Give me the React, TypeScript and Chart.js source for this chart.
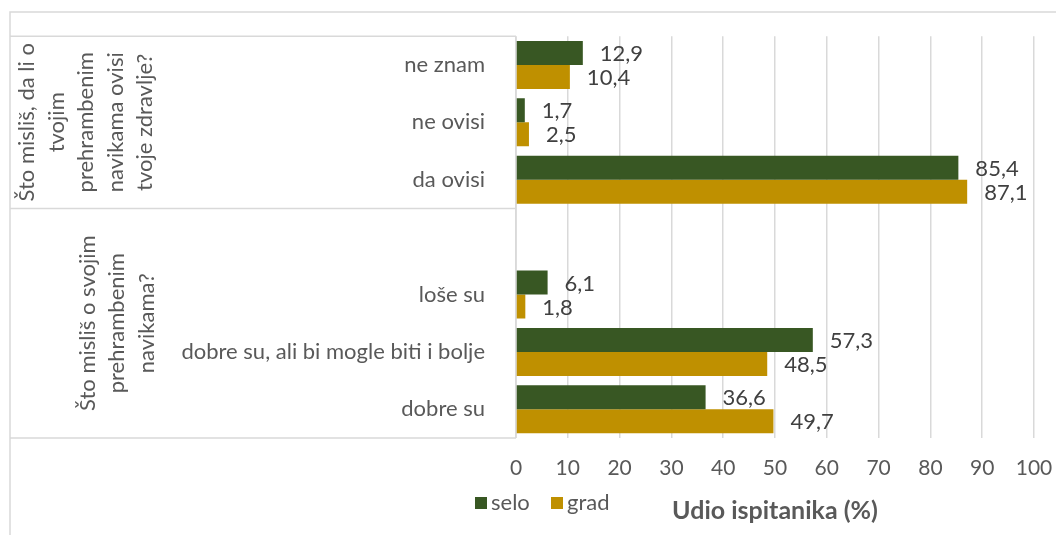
import React, { useEffect, useRef } from 'react';
import { Chart, registerables } from 'chart.js';

Chart.register(...registerables);

// ---------- data ----------
const categories = [
  'ne znam',
  'ne ovisi',
  'da ovisi',
  '',
  'loše su',
  'dobre su, ali bi mogle biti i bolje',
  'dobre su',
];
const seloValues = [12.9, 1.7, 85.4, null, 6.1, 57.3, 36.6];
const gradValues = [10.4, 2.5, 87.1, null, 1.8, 48.5, 49.7];
const seriesNames = ['selo', 'grad'];
const seriesColors = ['#385723', '#BF9000'];
const groupLabels = [
  ['Što misliš, da li o', 'tvojim', 'prehrambenim', 'navikama ovisi', 'tvoje zdravlje?'],
  ['Što misliš o svojim', 'prehrambenim', 'navikama?'],
];
const groupRanges = [
  [0, 2],
  [3, 6],
];
const xMin = 0;
const xMax = 100;
const xStep = 10;
const axisTitle = 'Udio ispitanika (%)';

const FONT = 'Lato, "Open Sans", sans-serif';
const GRID = '#d9d9d9';

const overlayPlugin = {
  id: 'overlay',
  beforeDraw(chart: any) {
    const ctx = chart.ctx;
    const area = chart.chartArea;
    const ys = chart.scales.y;
    ctx.save();
    ctx.strokeStyle = GRID;
    ctx.lineWidth = 1.5;
    // outer chart border (top + left)
    ctx.beginPath();
    ctx.moveTo(10, chart.height);
    ctx.lineTo(10, 12);
    ctx.lineTo(chart.width, 12);
    ctx.stroke();
    // category table lines
    const half = (ys.getPixelForValue(1) - ys.getPixelForValue(0)) / 2;
    const bounds: number[] = [];
    groupRanges.forEach(([a, b]) => {
      bounds.push(ys.getPixelForValue(a) - half);
      bounds.push(ys.getPixelForValue(b) + half);
    });
    const uniq = Array.from(new Set(bounds.map((v) => Math.round(v * 10) / 10)));
    ctx.beginPath();
    uniq.forEach((yy) => {
      ctx.moveTo(10, yy);
      ctx.lineTo(area.left, yy);
    });
    ctx.moveTo(area.left, Math.min(...uniq));
    ctx.lineTo(area.left, Math.max(...uniq));
    ctx.stroke();
    ctx.restore();
  },
  afterDatasetsDraw(chart: any) {
    const ctx = chart.ctx;
    ctx.save();
    ctx.font = `22px ${FONT}`;
    ctx.fillStyle = '#404040';
    ctx.textAlign = 'left';
    ctx.textBaseline = 'middle';
    chart.data.datasets.forEach((ds: any, di: number) => {
      const meta = chart.getDatasetMeta(di);
      meta.data.forEach((el: any, i: number) => {
        const v = ds.data[i];
        if (v === null || v === undefined) return;
        ctx.fillText(v.toFixed(1).replace('.', ','), el.x + 17, el.y + 1);
      });
    });
    ctx.restore();
  },
  afterDraw(chart: any) {
    const ctx = chart.ctx;
    const ys = chart.scales.y;
    const half = (ys.getPixelForValue(1) - ys.getPixelForValue(0)) / 2;
    ctx.save();
    ctx.font = `22px ${FONT}`;
    ctx.fillStyle = '#595959';
    ctx.textAlign = 'center';
    ctx.textBaseline = 'middle';
    const centersX = [86, 117];
    const lh = 29.5;
    groupLabels.forEach((lines, gi) => {
      const [a, b] = groupRanges[gi];
      const cy = (ys.getPixelForValue(a) - half + ys.getPixelForValue(b) + half) / 2;
      ctx.save();
      ctx.translate(centersX[gi], cy);
      ctx.rotate(-Math.PI / 2);
      lines.forEach((t, li) => {
        ctx.fillText(t, 0, (li - (lines.length - 1) / 2) * lh);
      });
      ctx.restore();
    });
    // legend
    ctx.textAlign = 'left';
    const legendX = [475, 551];
    chart.data.datasets.forEach((ds: any, di: number) => {
      ctx.fillStyle = ds.backgroundColor;
      ctx.fillRect(legendX[di], 497, 12, 12);
      ctx.fillStyle = '#595959';
      ctx.fillText(ds.label, legendX[di] + 16, 503);
    });
    ctx.restore();
  },
};

export default function App() {
  const ref = useRef<HTMLCanvasElement>(null);
  useEffect(() => {
    if (!ref.current) return;
    const chart = new Chart(ref.current, {
      type: 'bar',
      data: {
        labels: categories,
        datasets: [
          {
            label: seriesNames[0],
            data: seloValues,
            backgroundColor: seriesColors[0],
            categoryPercentage: 0.836,
            barPercentage: 1,
          },
          {
            label: seriesNames[1],
            data: gradValues,
            backgroundColor: seriesColors[1],
            categoryPercentage: 0.836,
            barPercentage: 1,
          },
        ] as any,
      },
      options: {
        indexAxis: 'y',
        animation: false,
        responsive: false,
        layout: { padding: { top: 36, right: 22, left: 0, bottom: 0 } },
        plugins: {
          legend: { display: false },
          tooltip: { enabled: false },
        },
        scales: {
          y: {
            grid: { display: false },
            border: { display: false },
            ticks: {
              padding: 23,
              color: '#595959',
              font: { family: FONT, size: 22 },
            },
            afterFit(scale: any) {
              scale.width = 516;
            },
          },
          x: {
            min: xMin,
            max: xMax,
            grid: { color: GRID, lineWidth: 1.5, drawTicks: false },
            border: { display: false },
            ticks: {
              stepSize: xStep,
              padding: 18,
              color: '#595959',
              font: { family: FONT, size: 21 },
            },
            title: {
              display: true,
              text: axisTitle,
              color: '#595959',
              font: { family: FONT, size: 25, weight: 'bold' },
              padding: { top: 0, bottom: 9 },
            },
            afterFit(scale: any) {
              scale.height = 97;
              scale.paddingLeft = 0;
              scale.paddingRight = 0;
            },
          },
        },
      } as any,
      plugins: [overlayPlugin],
    });
    return () => chart.destroy();
  }, []);
  return (
    <div style={{ position: 'absolute', left: 0, top: 0, width: 1056, height: 535, background: '#fff' }}>
      <canvas ref={ref} width={1056} height={535} style={{ display: 'block' }} />
    </div>
  );
}
